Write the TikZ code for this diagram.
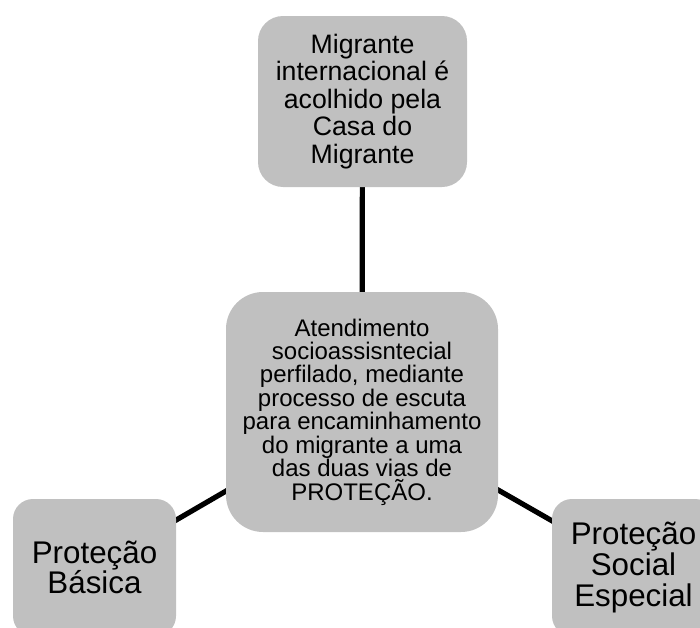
\documentclass[tikz,border=0pt]{standalone}
\usepackage{fontspec}
\setmainfont{Liberation Sans}
\usetikzlibrary{backgrounds}
\definecolor{boxgray}{RGB}{192,192,192}
\tikzset{
  box/.style={fill=boxgray, draw=none, rectangle, align=center, inner sep=0pt},
  link/.style={line width=3.9pt, black}
}
\begin{document}
\begin{tikzpicture}[x=0.75pt,y=-0.75pt]
\useasboundingbox (0,0) rectangle (700,628);
\clip (0,0) rectangle (700,628);
\node[box, minimum width=156.75pt, minimum height=128.25pt, rounded corners=18.75pt,
      font=\fontsize{20pt}{20.6pt}\selectfont] (top) at (362.5,101.5)
  {Migrante\\internacional é\\acolhido pela\\Casa do\\Migrante};
\node[box, minimum width=204pt, minimum height=180pt, rounded corners=27.75pt,
      font=\fontsize{18pt}{17.6pt}\selectfont] (mid) at (362,412)
  {Atendimento\\socioassisntecial\\perfilado, mediante\\processo de escuta\\para encaminhamento\\do migrante a uma\\das duas vias de\\PROTEÇÃO.};
\node[box, minimum width=122.25pt, minimum height=102.75pt, rounded corners=15pt,
      font=\fontsize{23.5pt}{23pt}\selectfont] (bl) at (94.5,567.5)
  {Proteção\\Básica};
\node[box, minimum width=122.25pt, minimum height=102.75pt, rounded corners=15pt,
      font=\fontsize{23.5pt}{23pt}\selectfont] (br) at (633.5,567.5)
  {Proteção\\Social\\Especial};
\begin{pgfonlayer}{background}
\draw[link] (top.center) -- (mid.center);
\draw[link] (mid.center) -- (bl.center);
\draw[link] (mid.center) -- (br.center);
\end{pgfonlayer}
\end{tikzpicture}
\end{document}
